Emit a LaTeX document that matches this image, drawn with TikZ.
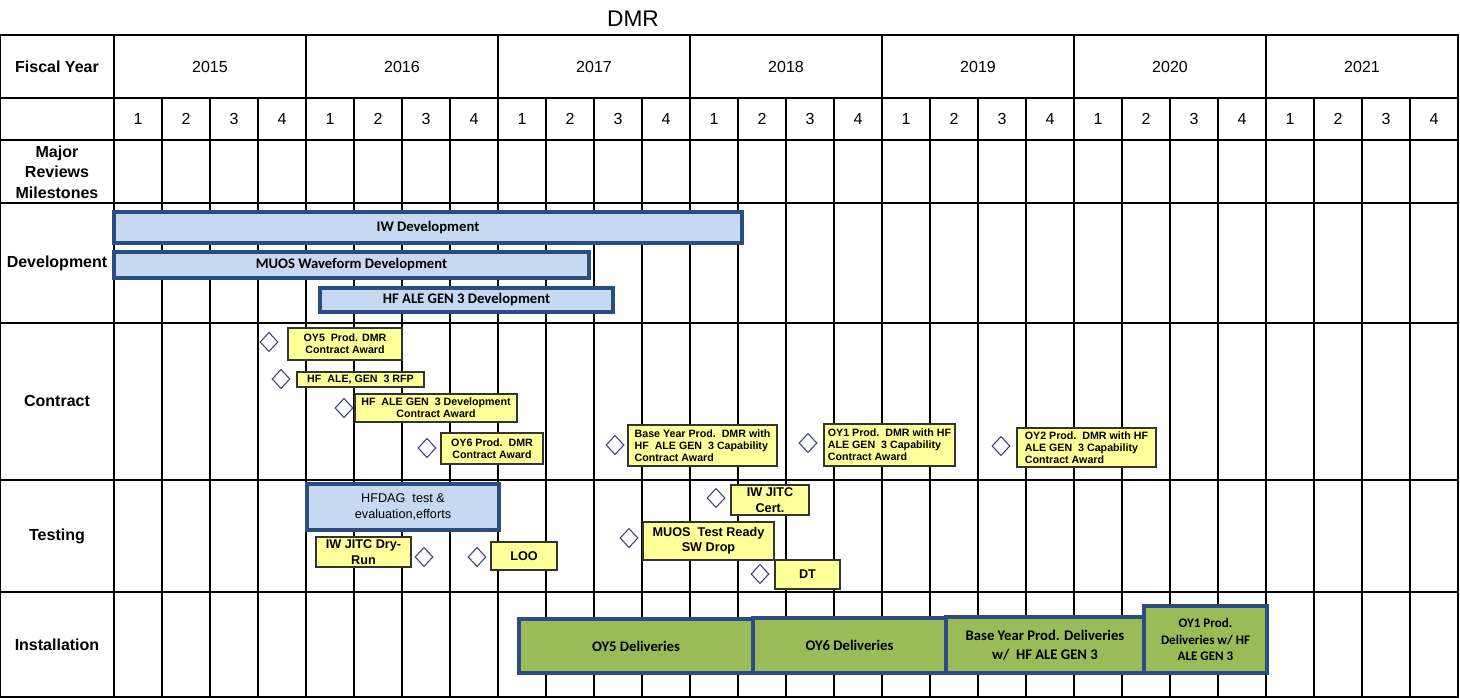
\documentclass[tikz,border=0pt]{standalone}
\usepackage{fontspec}
\setmainfont{Liberation Sans}
\newfontfamily\calib{Carlito}
\usetikzlibrary{shapes.geometric}
\definecolor{barblue}{RGB}{198,217,241}
\definecolor{baredge}{RGB}{44,77,130}
\definecolor{bargreen}{RGB}{155,187,89}
\definecolor{noteyellow}{RGB}{255,255,153}
\definecolor{diamedge}{RGB}{64,64,128}

% \placebox[style]{name}{x1}{y1}{x2}{y2}{text}: a box node spanning the given corners
\newcommand\placebox[7][]{%
  \node[#1, minimum width={(#5-#3)*0.75pt}, minimum height={(#6-#4)*0.75pt}]
    (#2) at ({(#3+#5)/2},{(#4+#6)/2}) {#7};}

\begin{document}
\begin{tikzpicture}[x=0.75pt,y=-0.75pt,
  gridline/.style={line width=1pt, black},
  head/.style={font=\fontsize{12}{15.5}\selectfont\bfseries, align=center},
  yearlab/.style={font=\fontsize{12}{14}\selectfont},
  bluebar/.style={draw=baredge, fill=barblue, line width=2.8pt, inner sep=0pt,
    font=\calib\bfseries\fontsize{11}{13}\selectfont, align=center},
  greenbar/.style={draw=baredge, fill=bargreen, line width=2.8pt, inner sep=0pt,
    font=\calib\bfseries\fontsize{11}{14.3}\selectfont, align=center},
  note/.style={draw=black!80, fill=noteyellow, line width=1.3pt, inner sep=0pt,
    font=\bfseries\fontsize{8}{9}\selectfont, align=center},
  testnote/.style={note, font=\bfseries\fontsize{9.5}{11.5}\selectfont},
  milestone/.style={diamond, draw=diamedge, fill=white, line width=0.8pt,
    inner sep=0pt, minimum width=13.5pt, minimum height=14.5pt}
]
\useasboundingbox (0,0) rectangle (1460,699);

% title
\node[font=\fontsize{17}{20}\selectfont] (title) at (633,19) {DMR};

% table grid
\draw[gridline] (0.5,35) rectangle (1458,697);
\foreach \y in {98,140,203,323,480,592} \draw[gridline] (0.5,\y) -- (1458,\y);
\draw[gridline] (114,35) -- (114,697);
\foreach \i in {1,...,6} \draw[gridline] ({114+192*\i},35) -- ({114+192*\i},697);
\foreach \i in {1,...,27} {
  \pgfmathtruncatemacro{\r}{mod(\i,4)}
  \ifnum\r>0 \draw[gridline] ({114+48*\i},98) -- ({114+48*\i},697); \fi
}

% row headings
\node[head] (hfy)   at (57,67)  {Fiscal Year};
\node[head] (hmaj)  at (57,172) {Major\\Reviews\\Milestones};
\node[head] (hdev)  at (57,263) {Development};
\node[head] (hcon)  at (57,401) {Contract};
\node[head] (htest) at (57,536) {Testing};
\node[head] (hins)  at (57,645) {Installation};

% years and quarters
\foreach \yr [count=\i from 0] in {2015,...,2021}
  \node[yearlab] (y\yr) at ({210+192*\i},67) {\yr};
\foreach \i in {0,...,27} {
  \pgfmathtruncatemacro{\q}{mod(\i,4)+1}
  \node[yearlab] (q\i) at ({138+48*\i},119) {\q};
}

% development bars
\placebox[bluebar]{iwdev}{114}{212}{742}{243}{IW Development}
\placebox[bluebar]{muosdev}{114}{252}{589}{278}{MUOS Waveform Development}
\placebox[bluebar]{hfdev}{320}{288}{613}{312}{HF ALE GEN 3 Development}

% contract awards
\node[milestone] (dc1) at (269,342) {};
\placebox[note]{c1}{288}{328}{402}{360}{OY5\ \ Prod. DMR\\Contract Award}
\node[milestone] (dc2) at (281,379) {};
\placebox[note]{c2}{297}{372}{424}{387}{HF\ \ ALE, GEN\ \ 3 RFP}
\node[milestone] (dc3) at (344,408) {};
\placebox[note]{c3}{355}{394}{517}{422}{HF\ \ ALE GEN\ \ 3 Development\\Contract Award}
\node[milestone] (dc4) at (427,448) {};
\placebox[note]{c4}{441}{433}{543}{464}{OY6 Prod.\ \ DMR\\Contract Award}
\node[milestone] (dc5) at (615,445) {};
\placebox[note, align=left]{c5}{628}{425}{777}{466}
  {Base Year Prod.\ \ DMR with\\HF\ \ ALE GEN\ \ 3 Capability\\Contract Award}
\node[milestone] (dc6) at (808,443) {};
\placebox[note, align=left]{c6}{824}{424}{955}{466}
  {OY1 Prod.\ \ DMR with HF\\ALE GEN\ \ 3 Capability\\Contract Award}
\node[milestone] (dc7) at (1001,446) {};
\placebox[note, align=left]{c7}{1017}{428}{1156}{467}
  {OY2 Prod.\ \ DMR with HF\\ALE GEN\ \ 3 Capability\\Contract Award}

% testing
\placebox[bluebar, font=\fontsize{9.5}{12}\selectfont]{hfdag}{307}{484}{499}{530}
  {HFDAG\ \ test \&\\evaluation,efforts}
\placebox[testnote]{t1}{316}{537}{411}{567}{IW JITC Dry-\\Run}
\node[milestone] (dt1) at (424,557) {};
\node[milestone] (dt2) at (477,557) {};
\placebox[testnote]{t2}{491}{542}{557}{570}{LOO}
\node[milestone] (dt3) at (629,538) {};
\placebox[testnote]{t3}{643}{522}{774}{560}{MUOS\ \ Test Ready\\SW Drop}
\node[milestone] (dt4) at (716,498) {};
\placebox[testnote]{t4}{731}{485}{809}{515}{IW JITC\\Cert.}
\node[milestone] (dt5) at (760,574) {};
\placebox[testnote]{t5}{775}{560}{840}{589}{DT}

% installation
\placebox[greenbar]{i1}{519}{619}{753}{673}{OY5 Deliveries}
\placebox[greenbar]{i2}{753}{618}{946}{673}{OY6 Deliveries}
\placebox[greenbar]{i3}{946}{617}{1144}{673}{Base Year Prod. Deliveries\\w/\ \ HF ALE GEN 3}
\placebox[greenbar, font=\calib\bfseries\fontsize{9.8}{12.4}\selectfont]{i4}{1144}{606}{1267}{673}
  {OY1 Prod.\\Deliveries w/ HF\\ALE GEN 3}
\end{tikzpicture}
\end{document}
